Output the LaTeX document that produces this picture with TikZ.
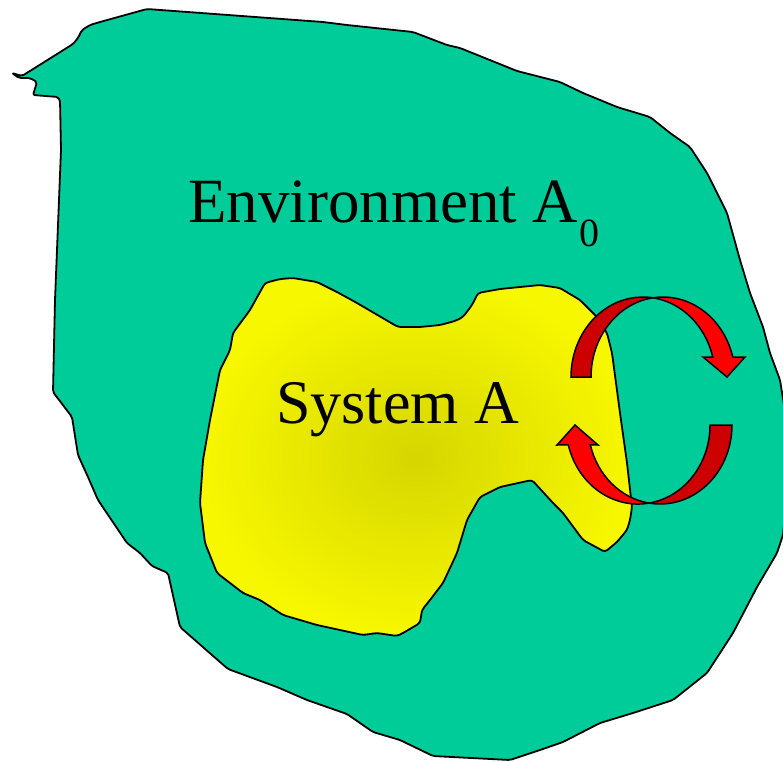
\documentclass[tikz,border=0pt]{standalone}
\usepackage{fontspec}
\setmainfont{Liberation Serif}
\definecolor{envgreen}{RGB}{0,204,153}
\definecolor{yout}{RGB}{247,247,0}
\definecolor{yin}{RGB}{214,214,0}
\definecolor{arrowdark}{RGB}{204,0,0}
\definecolor{arrowbright}{RGB}{255,0,0}
\tikzset{
  outline/.style={draw=black, line width=1.8pt, line join=round},
  envshape/.style={outline, fill=envgreen, rounded corners=2pt},
  sysshape/.style={outline, inner color=yin, outer color=yout, rounded corners=3pt},
  arrowback/.style={draw=black, line width=1.5pt, line join=miter, fill=arrowdark},
  arrowfront/.style={draw=black, line width=1.5pt, line join=miter, fill=arrowbright},
  label/.style={anchor=base west, inner sep=0pt, text=black}
}
\begin{document}
\begin{tikzpicture}[x=1pt,y=-1pt]
\useasboundingbox (0,0) rectangle (783,761);
% environment
\path[envshape] (22,76) -- (73,44) -- (78,38) -- (82,30) -- (90,25) -- (100,22) -- (147,9)
  -- (323,22) -- (347,25) -- (413,32) -- (447,45) -- (460,48) -- (517,71) -- (560,82)
  -- (583,93) -- (617,107) -- (650,117) -- (670,133) -- (690,147) -- (707,173) -- (727,213)
  -- (740,260) -- (750,293) -- (763,327) -- (770,353) -- (780,380) -- (784,405)
  -- (787,440) -- (787,490) -- (783,535) -- (777,553) -- (757,587) -- (733,633) -- (707,673)
  -- (673,700) -- (633,713) -- (600,723) -- (563,742) -- (540,750) -- (510,760)
  -- (433,756) -- (400,740) -- (373,732) -- (347,714) -- (307,700) -- (277,687) -- (228,669)
  -- (180,627) -- (168,573) -- (152,566) -- (140,553) -- (127,543) -- (98,500) -- (88,477)
  -- (78,455) -- (72,417) -- (53,392) -- (55,300) -- (61,150) -- (60,100) -- (58,97)
  -- (33,95) -- (37,82) -- (30,78) -- (19,78) -- (12,73) -- cycle;
% system
\shadedraw[sysshape] (265,283) -- (280,279) -- (293,278) -- (317,282) -- (337,292) -- (357,303)
  -- (398,327) -- (420,327) -- (440,325) -- (455,321) -- (463,317) -- (472,305) -- (478,293)
  -- (500,289) -- (540,285) -- (560,288) -- (580,300) -- (597,317) -- (607,333) -- (612,353)
  -- (616,383) -- (620,413) -- (627,463) -- (632,507) -- (630,520) -- (627,530) -- (617,542)
  -- (605,552) -- (583,540) -- (563,513) -- (553,503) -- (532,480) -- (500,487) -- (480,497)
  -- (467,520) -- (457,553) -- (443,583) -- (430,600) -- (422,610) -- (420,623) -- (403,633)
  -- (397,636) -- (377,633) -- (363,635) -- (317,625) -- (283,615) -- (260,600) -- (243,593)
  -- (217,573) -- (205,543) -- (200,503) -- (203,460) -- (210,420) -- (220,370) -- (230,350)
  -- (233,333) -- (250,310) -- cycle;
% upper curved arrow
\path[arrowback] (571,377) arc[start angle=180, end angle=278, x radius=72, y radius=80]
  arc[start angle=262, end angle=180, x radius=72, y radius=80] -- cycle;
\path[arrowfront] (653,297.8) arc[start angle=262, end angle=345.5, x radius=72, y radius=80]
  -- (745,357) -- (727,377) -- (703,357) -- (712.7,357)
  arc[start angle=345.5, end angle=278, x radius=72, y radius=80] -- cycle;
% lower curved arrow
\path[arrowback] (732,425) arc[start angle=0, end angle=98.79, x radius=72, y radius=79]
  arc[start angle=81.21, end angle=0, x radius=72, y radius=79] -- cycle;
\path[arrowfront] (649,503.1) arc[start angle=81.21, end angle=165.5, x radius=72, y radius=79]
  -- (557,445) -- (575,425) -- (598,445) -- (590.3,444.8)
  arc[start angle=165.5, end angle=98.79, x radius=72, y radius=79] -- cycle;
% labels
\node[label] (env) at (188,222) {\fontsize{63}{70}\selectfont Environment A\kern1pt\raisebox{-24pt}{\fontsize{40}{40}\selectfont 0}};
\node[label] (sys) at (276,423) {\fontsize{62}{70}\selectfont System A};
\end{tikzpicture}
\end{document}
